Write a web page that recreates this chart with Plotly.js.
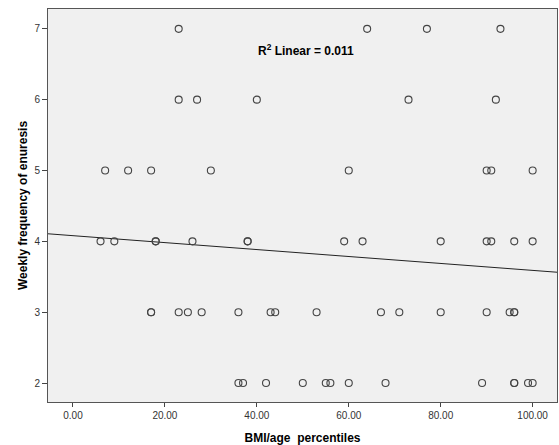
<!DOCTYPE html>
<html>
<head>
<meta charset="utf-8">
<script src="https://cdn.plot.ly/plotly-3.0.1.min.js"></script>
<style>
  html, body { margin: 0; padding: 0; background: #ffffff; }
  #chart { width: 559px; height: 445px; }
</style>
</head>
<body>
<div id="chart"></div>
<script>
// BMI/age percentile values grouped by weekly frequency of enuresis
const freq7 = [23, 64, 77, 93];
const freq6 = [23, 27, 40, 73, 92];
const freq5 = [7, 12, 17, 30, 60, 90, 91, 100];
const freq4 = [6, 9, 18, 18, 26, 38, 38, 59, 63, 80, 90, 91, 96, 100];
const freq3 = [17, 17, 23, 25, 28, 36, 43, 44, 53, 67, 71, 80, 90, 95, 96, 96];
const freq2 = [36, 37, 42, 50, 55, 56, 60, 68, 89, 96, 96, 99, 100];
const frequencyLevels = [7, 6, 5, 4, 3, 2];

// Fit line
const fitIntercept = 4.08;
const fitSlope = -0.0049;
const fitXRange = [-5.43, 105.3];

const xTickVals = [0, 20, 40, 60, 80, 100];
const yTickVals = [2, 3, 4, 5, 6, 7];
const r2Label = 'R<sup>2</sup> Linear = 0.011';

const groups = [freq7, freq6, freq5, freq4, freq3, freq2];
const px = [], py = [];
groups.forEach((g, i) => {
  g.forEach(v => { px.push(v); py.push(frequencyLevels[i]); });
});

const fitY = fitXRange.map(x => fitIntercept + fitSlope * x);

const traces = [
  {
    x: fitXRange, y: fitY, type: 'scatter', mode: 'lines',
    line: { color: '#222222', width: 1 }, hoverinfo: 'skip'
  },
  {
    x: px, y: py, type: 'scatter', mode: 'markers',
    marker: { symbol: 'circle-open', size: 7, color: '#444444', line: { width: 1.1, color: '#444444' } }
  }
];

const layout = {
  width: 559, height: 445,
  margin: { l: 48, r: 2, t: 9, b: 43 },
  paper_bgcolor: '#ffffff',
  plot_bgcolor: '#f0f0f0',
  showlegend: false,
  font: { family: 'Liberation Sans, Arial, sans-serif', color: '#000' },
  xaxis: {
    range: [-5.43, 105.3],
    tickvals: xTickVals,
    tickformat: '.2f',
    ticks: 'outside', ticklen: 4, tickcolor: '#444', tickwidth: 1,
    tickfont: { size: 10, color: '#333' },
    showgrid: false, zeroline: false,
    showline: true, linecolor: '#555', linewidth: 1, mirror: true,
    title: { text: 'BMI/age  percentiles', font: { size: 12, color: '#000', family: 'Liberation Sans, Arial, sans-serif', weight: 'bold' }, standoff: 13 }
  },
  yaxis: {
    range: [1.732, 7.28],
    tickvals: yTickVals,
    ticks: 'outside', ticklen: 5, tickcolor: '#444', tickwidth: 1,
    tickfont: { size: 10, color: '#333' },
    showgrid: false, zeroline: false,
    showline: true, linecolor: '#555', linewidth: 1, mirror: true,
    title: { text: 'Weekly frequency of enuresis', font: { size: 12, color: '#000', family: 'Liberation Sans, Arial, sans-serif', weight: 'bold' }, standoff: 4 }
  },
  annotations: [{
    x: 0, y: 0, xref: 'paper', yref: 'paper', showarrow: false,
    text: '<b>' + r2Label + '</b>', xanchor: 'left', yanchor: 'middle',
    font: { size: 12, color: '#000' }
  }]
};
// convert annotation pixel placement to paper coordinates
const plotW = 559 - 48 - 2, plotH = 445 - 9 - 43;
layout.annotations[0].x = (256 - 48) / plotW;
layout.annotations[0].y = 1 - (50.5 - 9) / plotH;

Plotly.newPlot('chart', traces, layout, { displayModeBar: false, staticPlot: true });
</script>
</body>
</html>
